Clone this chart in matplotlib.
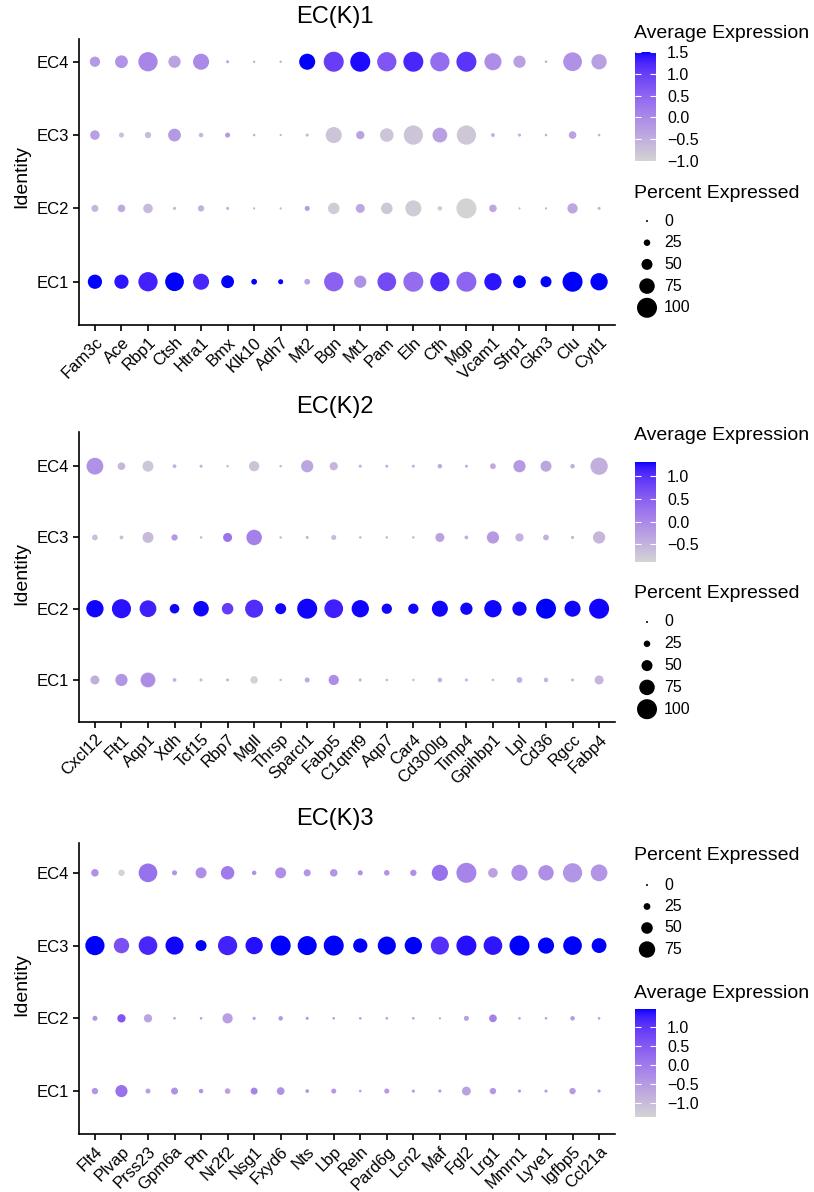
import numpy as np
import matplotlib
matplotlib.use("Agg")
import matplotlib.pyplot as plt
from matplotlib.colors import ListedColormap, Normalize
from matplotlib.cm import ScalarMappable

plt.rcParams['font.family'] = ['Liberation Sans', 'DejaVu Sans']

W, H = 814, 1192
clusters = ["EC1", "EC2", "EC3", "EC4"]

# ---- EC(K)1 ----
k1_genes = ["Fam3c", "Ace", "Rbp1", "Ctsh", "Htra1", "Bmx", "Klk10", "Adh7", "Mt2", "Bgn",
            "Mt1", "Pam", "Eln", "Cfh", "Mgp", "Vcam1", "Sfrp1", "Gkn3", "Clu", "Cytl1"]
k1_pct_ec1 = [68, 68, 96, 93, 78, 60, 21, 17, 21, 96, 57, 93, 100, 96, 100, 85, 60, 50, 100, 85]
k1_pct_ec2 = [28, 31, 42, 6, 24, 6, 1, 1, 17, 53, 39, 53, 78, 14, 100, 31, 1, 1, 46, 6]
k1_pct_ec3 = [42, 17, 24, 60, 14, 17, 3, 1, 6, 78, 35, 64, 96, 71, 96, 10, 6, 3, 31, 3]
k1_pct_ec4 = [46, 60, 96, 57, 78, 6, 2, 2, 78, 100, 100, 96, 100, 96, 100, 84, 57, 3, 93, 74]
k1_avg_ec1 = [1.5, 1.4, 1.3, 1.5, 1.25, 1.5, 1.5, 1.5, -0.35, 0.55, -0.1, 0.85, 0.4, 1.2, 0.5, 1.4, 1.5, 1.5, 1.5, 1.5]
k1_avg_ec2 = [-0.6, -0.45, -0.65, -0.6, -0.55, -0.5, -0.5, -0.5, -0.25, -0.9, -0.4, -0.85, -0.9, -0.9, -1.0, -0.4, -0.6, -0.5, -0.4, -0.6]
k1_avg_ec3 = [-0.3, -0.75, -0.65, -0.2, -0.6, -0.2, -0.5, -0.5, -0.6, -0.8, -0.35, -0.8, -0.8, -0.3, -0.85, -0.5, -0.5, -0.5, -0.35, -0.55]
k1_avg_ec4 = [-0.2, -0.15, 0.05, -0.35, 0.0, -0.4, -0.5, -0.5, 1.5, 1.0, 1.45, 0.7, 1.25, 0.4, 1.1, -0.05, -0.3, -0.5, -0.1, -0.3]

# ---- EC(K)2 ----
k2_genes = ["Cxcl12", "Flt1", "Aqp1", "Xdh", "Tcf15", "Rbp7", "Mgll", "Thrsp", "Sparcl1", "Fabp5",
            "C1qtnf9", "Aqp7", "Car4", "Cd300lg", "Timp4", "Gpihbp1", "Lpl", "Cd36", "Rgcc", "Fabp4"]
k2_pct_ec1 = [39, 57, 71, 10, 6, 6, 31, 3, 17, 46, 6, 3, 3, 14, 6, 3, 21, 14, 6, 39]
k2_pct_ec2 = [85, 95, 82, 42, 75, 53, 89, 50, 100, 93, 85, 46, 46, 78, 57, 85, 68, 100, 78, 100]
k2_pct_ec3 = [21, 10, 50, 24, 3, 39, 75, 3, 6, 17, 3, 3, 3, 39, 10, 57, 35, 21, 6, 57]
k2_pct_ec4 = [82, 31, 50, 10, 6, 3, 46, 3, 57, 35, 6, 6, 6, 14, 6, 21, 57, 50, 14, 85]
k2_avg_ec1 = [-0.45, -0.15, -0.05, -0.5, -0.55, -0.55, -0.89, -0.6, -0.4, -0.05, -0.5, -0.5, -0.6, -0.45, -0.5, -0.55, -0.45, -0.5, -0.55, -0.55]
k2_avg_ec2 = [1.3, 1.25, 1.15, 1.3, 1.3, 0.9, 1.05, 1.3, 1.3, 1.15, 1.3, 1.3, 1.3, 1.3, 1.3, 1.3, 1.3, 1.32, 1.3, 1.3]
k2_avg_ec3 = [-0.65, -0.6, -0.6, -0.2, -0.5, 0.25, 0.1, -0.55, -0.55, -0.6, -0.5, -0.5, -0.5, -0.3, -0.45, -0.2, -0.5, -0.45, -0.5, -0.55]
k2_avg_ec4 = [-0.1, -0.55, -0.75, -0.5, -0.5, -0.6, -0.7, -0.55, -0.35, -0.55, -0.5, -0.5, -0.5, -0.4, -0.5, -0.4, -0.2, -0.35, -0.45, -0.45]

# ---- EC(K)3 ----
k3_genes = ["Flt4", "Plvap", "Prss23", "Gpm6a", "Ptn", "Nr2f2", "Nsg1", "Fxyd6", "Nts", "Lbp",
            "Reln", "Pard6g", "Lcn2", "Maf", "Fgl2", "Lrg1", "Mmrn1", "Lyve1", "Igfbp5", "Ccl21a"]
k3_pct_ec1 = [23, 53, 16, 26, 13, 19, 26, 30, 9, 16, 3, 16, 6, 6, 36, 23, 6, 6, 23, 6]
k3_pct_ec2 = [16, 33, 33, 3, 3, 43, 6, 13, 6, 3, 3, 3, 3, 1, 16, 30, 3, 3, 13, 3]
k3_pct_ec3 = [90, 70, 87, 84, 47, 90, 80, 94, 89, 94, 64, 84, 80, 84, 94, 87, 94, 74, 87, 67]
k3_pct_ec4 = [29, 23, 87, 16, 47, 60, 13, 47, 26, 29, 16, 19, 23, 74, 94, 40, 74, 70, 90, 77]
k3_avg_ec1 = [-0.4, 0.15, -0.6, -0.35, -0.4, -0.6, -0.15, -0.35, -0.45, -0.45, -0.5, -0.45, -0.5, -0.5, -0.6, -0.45, -0.5, -0.5, -0.5, -0.5]
k3_avg_ec2 = [-0.4, 0.55, -0.65, -0.5, -0.5, -0.55, -0.45, -0.45, -0.5, -0.5, -0.5, -0.5, -0.5, -0.5, -0.55, -0.1, -0.5, -0.5, -0.5, -0.5]
k3_avg_ec3 = [1.48, 0.65, 1.2, 1.45, 1.48, 1.25, 1.4, 1.48, 1.48, 1.48, 1.48, 1.48, 1.48, 1.1, 1.4, 1.35, 1.48, 1.48, 1.48, 1.48]
k3_avg_ec4 = [-0.35, -1.36, 0.15, -0.4, -0.3, 0.0, -0.35, -0.3, -0.4, -0.4, -0.35, -0.4, -0.35, 0.15, -0.15, -0.6, -0.3, -0.3, -0.4, -0.4]

size_breaks_12 = [0, 25, 50, 75, 100]
size_breaks_3 = [0, 25, 50, 75]


def srgb_to_lab(rgb):
    c = np.where(rgb <= 0.04045, rgb / 12.92, ((rgb + 0.055) / 1.055) ** 2.4)
    m = np.array([[0.4124564, 0.3575761, 0.1804375],
                  [0.2126729, 0.7151522, 0.0721750],
                  [0.0193339, 0.1191920, 0.9503041]])
    xyz = c @ m.T / np.array([0.95047, 1.0, 1.08883])
    d = 6 / 29
    f = np.where(xyz > d ** 3, np.cbrt(xyz), xyz / (3 * d ** 2) + 4 / 29)
    return np.stack([116 * f[..., 1] - 16, 500 * (f[..., 0] - f[..., 1]),
                     200 * (f[..., 1] - f[..., 2])], axis=-1)


def lab_to_srgb(lab):
    d = 6 / 29
    fy = (lab[..., 0] + 16) / 116
    f = np.stack([fy + lab[..., 1] / 500, fy, fy - lab[..., 2] / 200], axis=-1)
    xyz = np.where(f > d, f ** 3, 3 * d ** 2 * (f - 4 / 29)) * np.array([0.95047, 1.0, 1.08883])
    m = np.array([[3.2404542, -1.5371385, -0.4985314],
                  [-0.9692660, 1.8760108, 0.0415560],
                  [0.0556434, -0.2040259, 1.0572252]])
    c = np.clip(xyz @ m.T, 0, 1)
    return np.where(c <= 0.0031308, 12.92 * c, 1.055 * c ** (1 / 2.4) - 0.055)


# lightgrey -> blue, interpolated in Lab like ggplot
lo = srgb_to_lab(np.array([211, 211, 211]) / 255)
hi = srgb_to_lab(np.array([0, 0, 255]) / 255)
t = np.linspace(0, 1, 256)[:, None]
cmap = ListedColormap(np.clip(lab_to_srgb(lo + (hi - lo) * t), 0, 1))


def px_rect(x0, y0, x1, y1):
    return [x0 / W, 1 - y1 / H, (x1 - x0) / W, (y1 - y0) / H]


def dot_area(pct, pmax):
    d = 2.0 + 18.0 * np.asarray(pct, float) / pmax
    return (d * 0.72) ** 2


def fmt(v):
    return f"{v:.1f}".replace("-", "\u2212")


fig = plt.figure(figsize=(W / 100, H / 100), dpi=100)
leg = fig.add_axes([0, 0, 1, 1], zorder=5)
leg.set_xlim(0, W)
leg.set_ylim(H, 0)
leg.axis('off')


def colorbar(norm, y0, y1):
    cax = fig.add_axes(px_rect(635, y0, 656, y1))
    cb = fig.colorbar(ScalarMappable(norm=norm, cmap=cmap), cax=cax)
    cb.outline.set_visible(False)
    ticks = [v for v in np.round(np.arange(-2, 2.01, 0.5), 1) if norm.vmin <= v <= norm.vmax]
    cb.set_ticks(ticks)
    cb.set_ticklabels([fmt(v) for v in ticks])
    cax.tick_params(axis='y', direction='in', length=4, width=0.8, color='white',
                    left=True, right=True, labelleft=False, labelright=True,
                    labelsize=11.5, pad=8)


def size_legend(pmax, breaks, y_title, y_first, step):
    leg.text(634, y_title, "Percent Expressed", fontsize=14, ha='left', va='center')
    ys = [y_first + i * step for i in range(len(breaks))]
    leg.scatter([647] * len(breaks), ys, s=dot_area(breaks, pmax), c='black', linewidths=0)
    for b, y in zip(breaks, ys):
        leg.text(664, y, str(b), fontsize=11.5, ha='left', va='center')


def panel(genes, pct_rows, avg_rows, title, y0, y1, ylim, title_y, ident_y):
    ax = fig.add_axes(px_rect(79, y0, 615, y1))
    pct = np.array(pct_rows, float)
    avg = np.array(avg_rows, float)
    pmax = pct.max()
    norm = Normalize(avg.min(), avg.max())
    xs, ys = np.meshgrid(np.arange(len(genes)), np.arange(1, len(clusters) + 1))
    ax.scatter(xs.ravel(), ys.ravel(), s=dot_area(pct.ravel(), pmax), c=avg.ravel(),
               cmap=cmap, norm=norm, linewidths=0)
    ax.set_xlim(-0.6, len(genes) - 0.4)
    ax.set_ylim(*ylim)
    ax.set_xticks(range(len(genes)))
    ax.set_xticklabels(genes, rotation=45, ha='right', rotation_mode='anchor', fontsize=12)
    ax.set_yticks(range(1, len(clusters) + 1))
    ax.set_yticklabels(clusters, fontsize=12)
    for s in ['top', 'right']:
        ax.spines[s].set_visible(False)
    for s in ['left', 'bottom']:
        ax.spines[s].set_linewidth(1.2)
    ax.tick_params(length=4, width=1.2, pad=3)
    fig.text(335 / W, 1 - title_y / H, title, fontsize=17, ha='center', va='center')
    fig.text(22 / W, 1 - ident_y / H, "Identity", fontsize=14, rotation=90,
             ha='center', va='center')
    return norm, pmax


norm1, pmax1 = panel(k1_genes, [k1_pct_ec1, k1_pct_ec2, k1_pct_ec3, k1_pct_ec4],
                     [k1_avg_ec1, k1_avg_ec2, k1_avg_ec3, k1_avg_ec4],
                     "EC(K)1", 39, 325, (0.41, 4.31), 17, 176)
leg.text(634, 34, "Average Expression", fontsize=14, ha='left', va='center')
colorbar(norm1, 52, 161)
size_legend(pmax1, size_breaks_12, 193, 221, 21.7)

norm2, pmax2 = panel(k2_genes, [k2_pct_ec1, k2_pct_ec2, k2_pct_ec3, k2_pct_ec4],
                     [k2_avg_ec1, k2_avg_ec2, k2_avg_ec3, k2_avg_ec4],
                     "EC(K)2", 432, 722, (0.41, 4.48), 407, 574)
leg.text(634, 435, "Average Expression", fontsize=14, ha='left', va='center')
colorbar(norm2, 462, 562)
size_legend(pmax2, size_breaks_12, 593, 622, 21.8)

norm3, pmax3 = panel(k3_genes, [k3_pct_ec1, k3_pct_ec2, k3_pct_ec3, k3_pct_ec4],
                     [k3_avg_ec1, k3_avg_ec2, k3_avg_ec3, k3_avg_ec4],
                     "EC(K)3", 843, 1134, (0.41, 4.41), 819, 985)
size_legend(pmax3, size_breaks_3, 856, 885, 21.5)
leg.text(634, 993, "Average Expression", fontsize=14, ha='left', va='center')
colorbar(norm3, 1009, 1117)

fig.savefig("out.png", dpi=100, facecolor='white')
